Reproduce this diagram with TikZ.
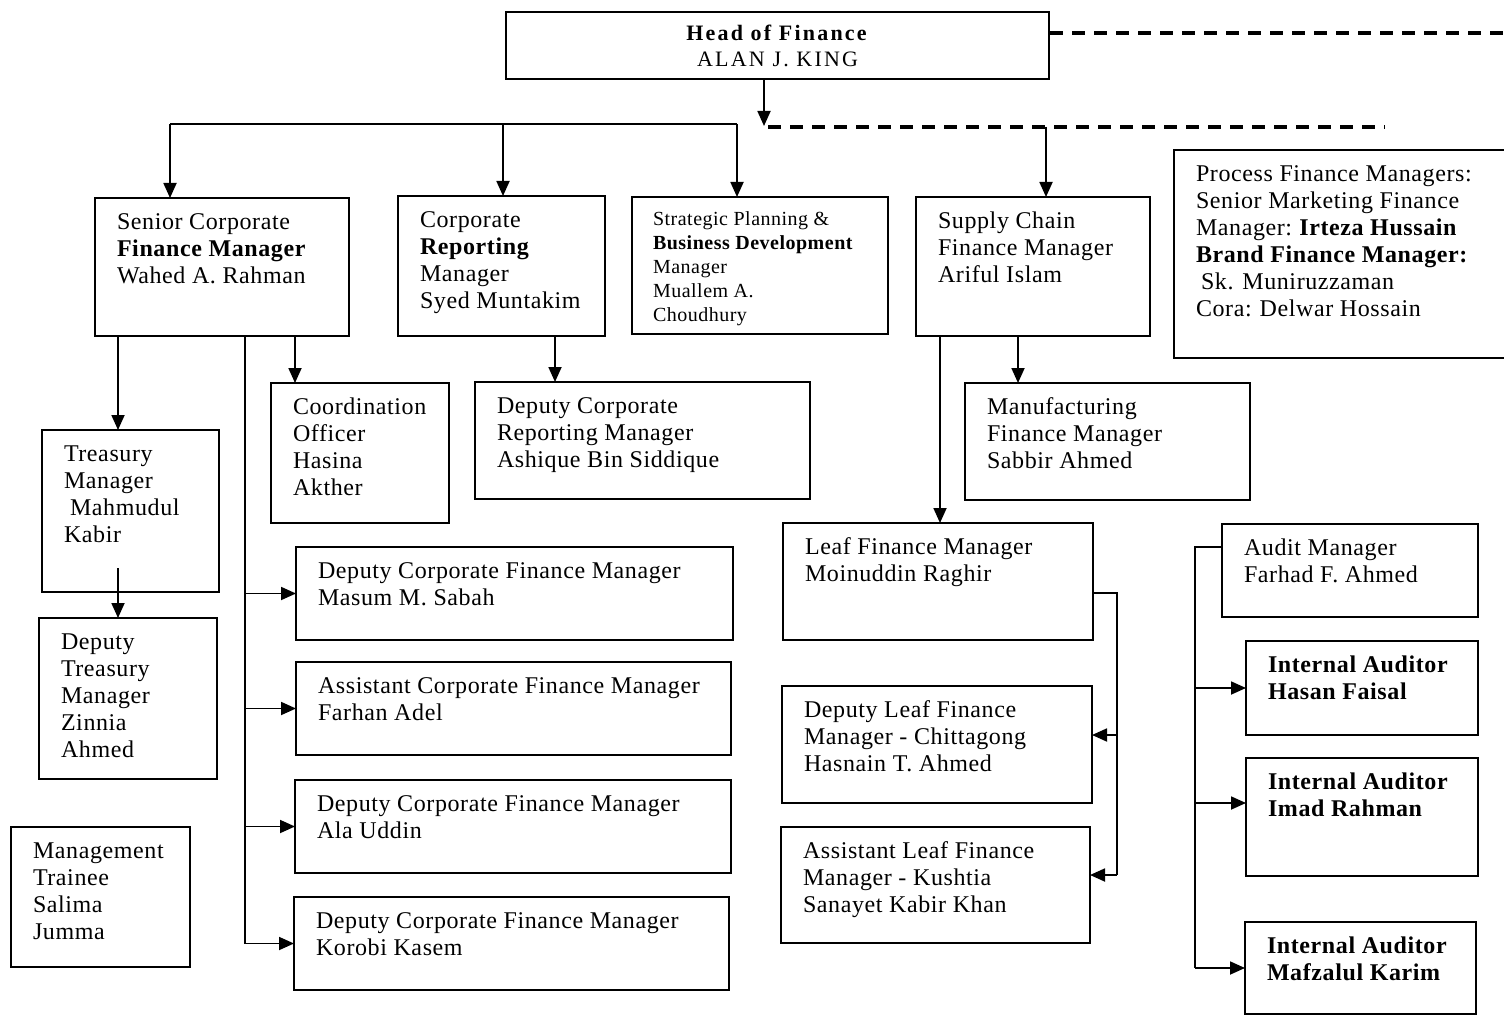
\documentclass[tikz,border=0pt]{standalone}
\usepackage{fontspec}
\setmainfont{Liberation Serif}
\newfontfamily\bodyfont[LetterSpace=2.5]{Liberation Serif}
\newfontfamily\headfont[LetterSpace=10]{Liberation Serif}
\usetikzlibrary{arrows.meta,calc}
\tikzset{
  orgbox/.style={draw, line width=2.2pt, anchor=north west, inner sep=0pt, outer sep=0pt},
  conn/.style={line width=1.8pt},
  arr/.style={conn, -{Triangle[length=15pt,width=13pt]}},
  dashconn/.style={line width=3.2pt, dash pattern=on 13pt off 9pt},
}
% #1 extra style, #2 name, #3 x, #4 y, #5 w, #6 h, #7 text
\newcommand{\ob}[7][]{%
  \node[orgbox,#1, minimum width=#5pt, minimum height=#6pt] (#2) at (#3,#4)
  {\hspace*{22pt}\parbox[c][#6pt][t]{\dimexpr#5pt-22pt\relax}{\raggedright\bodyfont\fontsize{24}{27}\selectfont\vspace*{13pt}\strut #7}};%
}
\begin{document}
\begin{tikzpicture}[x=1pt,y=-1pt]
\useasboundingbox (0,0) rectangle (1504,1016);

% head
\node[draw, line width=2.2pt, anchor=north west, minimum width=543pt, minimum height=67pt, inner sep=0pt,
  align=center, font=\headfont\fontsize{22}{26}\selectfont] (head) at (505,11)
  {\textbf{Head of Finance}\\ALAN J. KING};

% first level
\ob{scfm}{95}{198}{254}{138}{Senior Corporate\\\textbf{Finance Manager}\\Wahed A. Rahman}
\ob{crm}{398}{196}{207}{140}{Corporate\\\textbf{Reporting}\\Manager\\Syed Muntakim}
\node[orgbox, minimum width=256pt, minimum height=137pt] (spbd) at (632,197)
  {\hspace*{21pt}\parbox[c][137pt][t]{235pt}{\raggedright\bodyfont\fontsize{20}{24}\selectfont\vspace*{12pt}\strut Strategic Planning \&\\\textbf{Business Development}\\Manager\\Muallem A.\\Choudhury}};
\ob{scm}{916}{197}{234}{139}{Supply Chain\\Finance Manager\\Ariful Islam}
\ob{pfm}{1174}{150}{340}{208}{Process Finance Managers:\\Senior Marketing Finance\\Manager:~\textbf{Irteza Hussain}\\\textbf{Brand Finance Manager:}\\\hspace*{5pt}Sk. Muniruzzaman\\Cora:\hspace*{8pt}Delwar Hossain}

% second level
\ob{tm}{42}{430}{177}{162}{Treasury\\Manager\\\hspace*{6pt}Mahmudul\\Kabir}
\ob{dtm}{39}{618}{178}{161}{Deputy\\Treasury\\Manager\\Zinnia\\Ahmed}
\ob{coord}{271}{383}{178}{140}{Coordination\\Officer\\Hasina\\Akther}
\ob{dcrm}{475}{382}{335}{117}{Deputy Corporate\\Reporting Manager\\Ashique Bin Siddique}
\ob{mfm}{965}{383}{285}{117}{Manufacturing\\Finance Manager\\Sabbir Ahmed}
\ob{mt}{11}{827}{179}{140}{Management\\Trainee\\Salima\\Jumma}

% deputies of corporate finance
\ob{masum}{296}{547}{437}{93}{Deputy Corporate Finance Manager\\Masum M. Sabah}
\ob{farhan}{296}{662}{435}{93}{Assistant Corporate Finance Manager\\Farhan Adel}
\ob{ala}{295}{780}{436}{93}{Deputy Corporate Finance Manager\\Ala Uddin}
\ob{korobi}{294}{897}{435}{93}{Deputy Corporate Finance Manager\\Korobi Kasem}

% leaf
\ob{leaf}{783}{523}{310}{117}{Leaf Finance Manager\\Moinuddin Raghir}
\ob{chitt}{782}{686}{310}{117}{Deputy Leaf Finance\\Manager - Chittagong\\Hasnain T. Ahmed}
\ob{kush}{781}{827}{309}{116}{Assistant Leaf Finance\\Manager - Kushtia\\Sanayet Kabir Khan}

% audit
\ob{audit}{1222}{524}{256}{93}{Audit Manager\\Farhad F. Ahmed}
\ob{hasan}{1246}{641}{232}{94}{\textbf{Internal Auditor}\\\textbf{Hasan Faisal}}
\ob{imad}{1246}{758}{232}{118}{\textbf{Internal Auditor}\\\textbf{Imad Rahman}}
\ob{mafz}{1245}{922}{231}{92}{\textbf{Internal Auditor}\\\textbf{Mafzalul Karim}}

% ---------- connectors ----------
\coordinate (hj) at (764,126);
\coordinate (b1) at (170,124);
\coordinate (b2) at (503,124);
\coordinate (b3) at (737,124);
\coordinate (dend) at (1385,127);
\coordinate (sc) at (1046,127);
\coordinate (hd) at (1504,33);

\draw[arr] (hj |- head.south) -- (hj);
\draw[dashconn] (hd -| head.east) -- (hd);
\draw[dashconn] (768,127) -- (dend);
\draw[conn] (b1) -- (b3);
\draw[arr] (b1) -- (b1 |- scfm.north);
\draw[arr] (b2) -- (b2 |- crm.north);
\draw[arr] (b3) -- (b3 |- spbd.north);
\draw[arr] (sc) -- (sc |- scm.north);

% senior corporate finance manager
\coordinate (t1) at (118,0);
\coordinate (t2) at (295,0);
\coordinate (v) at (245,0);
\draw[arr] (t1 |- scfm.south) -- (t1 |- tm.north);
\draw[arr] (t2 |- scfm.south) -- (t2 |- coord.north);
\draw[arr] (118,568) -- (t1 |- dtm.north);
\draw[conn] (v |- scfm.south) -- (v |- korobi.west);
\draw[arr] (v |- masum.west) -- (masum.west);
\draw[arr] (v |- farhan.west) -- (farhan.west);
\draw[arr] (v |- ala.west) -- (ala.west);
\draw[arr] (v |- korobi.west) -- (korobi.west);

% corporate reporting
\coordinate (r1) at (555,0);
\draw[arr] (r1 |- crm.south) -- (r1 |- dcrm.north);

% supply chain
\coordinate (s1) at (940,0);
\coordinate (s2) at (1018,0);
\draw[arr] (s1 |- scm.south) -- (s1 |- leaf.north);
\draw[arr] (s2 |- scm.south) -- (s2 |- mfm.north);

% leaf
\coordinate (lt) at (1117,593);
\coordinate (lc) at (1117,735);
\coordinate (lk) at (1117,875);
\draw[conn] (lt -| leaf.east) -- (lt) -- (lk);
\draw[arr] (lc) -- (lc -| chitt.east);
\draw[arr] (lk) -- (lk -| kush.east);

% audit
\coordinate (at) at (1195,547);
\coordinate (ah) at (1195,688);
\coordinate (ai) at (1195,803);
\coordinate (am) at (1195,968);
\draw[conn] (at -| audit.west) -- (at) -- (am);
\draw[arr] (ah) -- (ah -| hasan.west);
\draw[arr] (ai) -- (ai -| imad.west);
\draw[arr] (am) -- (am -| mafz.west);
\end{tikzpicture}
\end{document}
